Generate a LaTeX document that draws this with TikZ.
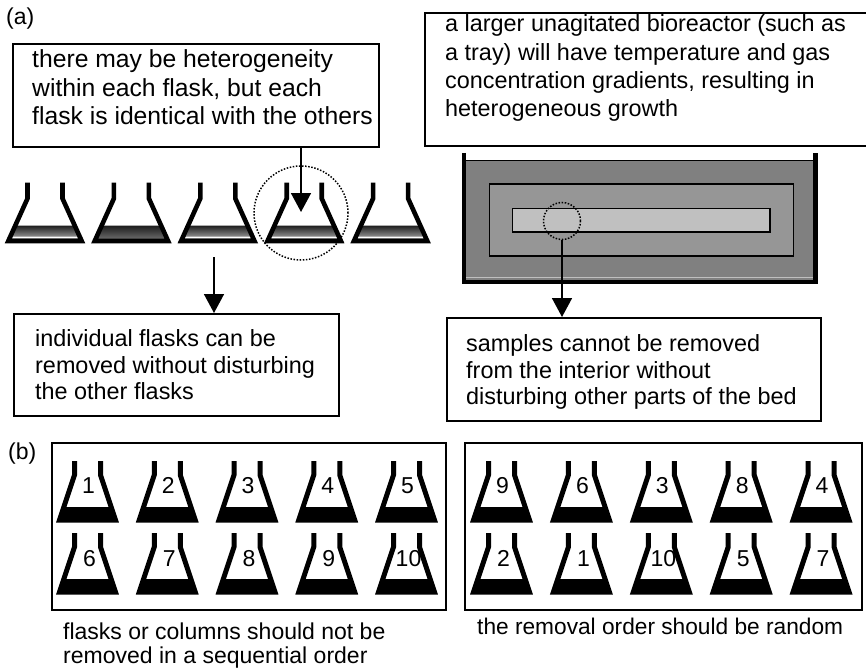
\documentclass[tikz,border=0pt]{standalone}
\usepackage{fontspec}
\setmainfont{Liberation Sans}
\usetikzlibrary{arrows.meta}

\definecolor{trayout}{HTML}{808080}
\definecolor{traymid}{HTML}{969696}
\definecolor{trayin}{HTML}{C0C0C0}
\definecolor{liqtop}{HTML}{1C1C1C}
\definecolor{liqbot}{HTML}{8E8E8E}
\definecolor{liqlow}{HTML}{A2A2A2}

\begin{document}
\begin{tikzpicture}[x=1pt,y=-1pt,
  box/.style={draw, line width=1.6pt, inner sep=0pt, anchor=north west},
  txt/.style={inner sep=0pt, anchor=base west, font=\fontsize{23}{27}\selectfont},
  num/.style={inner sep=0pt, anchor=base, font=\fontsize{23}{27}\selectfont},
  arr/.style={line width=1.6pt, -{Triangle[width=20pt,length=19pt]}},
  ring/.style={draw, line width=1.5pt, dash pattern=on 1.5pt off 1.6pt, circle, inner sep=0pt},
  glass/.style={line width=4.6pt, line join=miter, miter limit=10},
  % small conical flask with a shaded broth layer
  pics/flaska/.style={code={
    \shade[top color=liqtop, bottom color=liqbot]
      (-29.7,43) -- (-34.7,54) -- (34.7,54) -- (29.7,43) -- cycle;
    \fill[liqlow] (-34.7,54) -- (-36.7,58.5) -- (36.7,58.5) -- (34.7,54) -- cycle;
    \draw[white, line width=1pt] (-34.7,54.5) -- (34.7,54.5);
    \draw[glass] (-17.5,0) -- (-17.5,16) -- (-36.7,58.5) -- (36.7,58.5) -- (17.5,16) -- (17.5,0);
  }},
  pics/flaskaplain/.style={code={
    \shade[top color=liqtop, bottom color=liqbot!120]
      (-29.7,43) -- (-36.7,58.5) -- (36.7,58.5) -- (29.7,43) -- cycle;
    \draw[glass] (-17.5,0) -- (-17.5,16) -- (-36.7,58.5) -- (36.7,58.5) -- (17.5,16) -- (17.5,0);
  }},
  % conical flask filled with solid medium
  pics/flaskb/.style={code={
    \fill (-23.7,46) -- (-28,59) -- (28,59) -- (23.7,46) -- cycle;
    \draw[line width=5pt, line join=miter, miter limit=10]
      (-13,0) -- (-13,14) -- (-28,59) -- (28,59) -- (13,14) -- (13,0);
  }},
]
\useasboundingbox (0,0) rectangle (866,671);
\clip (0,0) rectangle (866,671);

% ---------- part (a) ----------
\node[txt] (labA) at (6,25) {(a)};

\node[box, minimum width=366pt, minimum height=103pt] (box1) at (12,43) {};
\node[txt] (text1) at (32,67.5) {\parbox[t]{345pt}{\fontsize{24.7}{28.7}\selectfont
  there may be heterogeneity\\
  within each flask, but each\\
  flask is identical with the others}};

\node[box, minimum width=446pt, minimum height=133pt] (box2) at (424,12) {};
\node[txt] (text2) at (445,32) {\parbox[t]{420pt}{\fontsize{23.4}{28.3}\selectfont
  a larger unagitated bioreactor (such as\\
  a tray) will have temperature and gas\\
  concentration gradients, resulting in\\
  heterogeneous growth}};

% row of shake flasks
\foreach \i in {0,2,3,4} \pic at ({45+86.4*\i},182.5) {flaska};
\pic at ({45+86.4},182.5) {flaskaplain};
\node[ring, minimum size=94pt] (ringA) at (301,213) {};
\coordinate (tipA) at (301,212);
\draw[arr] (box1.south -| tipA) -- (tipA);

% tray bioreactor
\fill[trayout] (466,161) rectangle (813.5,280);
\draw[line width=1pt] (466,161) -- (813.5,161);
\draw[trayin, line width=1pt] (466,277.5) -- (813.5,277.5);
\draw[line width=4.4pt, line join=miter] (464,153) -- (464,282) -- (815.5,282) -- (815.5,153);
\draw[line width=1.3pt, fill=traymid] (489.3,184) rectangle (793.3,256);
\draw[line width=1.3pt, fill=trayin] (512.7,208.3) rectangle (770,232);
\node[ring, minimum size=37pt] (ringT) at (562,221) {};

% lower notes of part (a)
\node[box, minimum width=325pt, minimum height=102pt] (box3) at (13,313) {};
\node[txt] (text3) at (35,346.5) {\parbox[t]{300pt}{\fontsize{23.4}{26.7}\selectfont
  individual flasks can be\\
  removed without disturbing\\
  the other flasks}};
\coordinate (srcB) at (214,257);
\draw[arr] (srcB) -- (box3.north -| srcB);

\node[box, minimum width=374pt, minimum height=103pt] (box4) at (446,317) {};
\node[txt] (text4) at (466,351.5) {\parbox[t]{350pt}{\fontsize{23.4}{26.7}\selectfont
  samples cannot be removed\\
  from the interior without\\
  disturbing other parts of the bed}};
\draw[arr] (ringT.south) -- (box4.north -| ringT.south);

% ---------- part (b) ----------
\node[txt] (labB) at (8,459.5) {(b)};

\node[box, minimum width=394pt, minimum height=167pt] (boxL) at (51,442) {};
\node[box, minimum width=397pt, minimum height=167pt] (boxR) at (464,442) {};

% sequential numbering
\foreach \c in {0,...,4} {
  \pgfmathsetmacro{\cx}{87.5+79.75*\c}
  \pic at (\cx,461) {flaskb};
  \pic at (\cx,533) {flaskb};
  \pgfmathtruncatemacro{\up}{\c+1}
  \pgfmathtruncatemacro{\dn}{\c+6}
  \node[num] (seqU\c) at (\cx+1,493.5) {\up};
  \node[num] (seqD\c) at (\cx+2,566.5) {\dn};
}

% random numbering
\foreach \c/\up/\dn in {0/9/2, 1/6/1, 2/3/10, 3/8/5, 4/4/7} {
  \pgfmathsetmacro{\cx}{501.5+79.9*\c}
  \pic at (\cx,461) {flaskb};
  \pic at (\cx,533) {flaskb};
  \node[num] (rndU\c) at (\cx+1,493.5) {\up};
  \node[num] (rndD\c) at (\cx+2,566.5) {\dn};
}

\node[txt] (capL) at (63,639.8) {\parbox[t]{380pt}{\fontsize{23}{23.8}\selectfont
  flasks or columns should not be\\
  removed in a sequential order}};
\node[txt, font=\fontsize{22.7}{27}\selectfont] (capR) at (477,634.8) {the removal order should be random};

\end{tikzpicture}
\end{document}
